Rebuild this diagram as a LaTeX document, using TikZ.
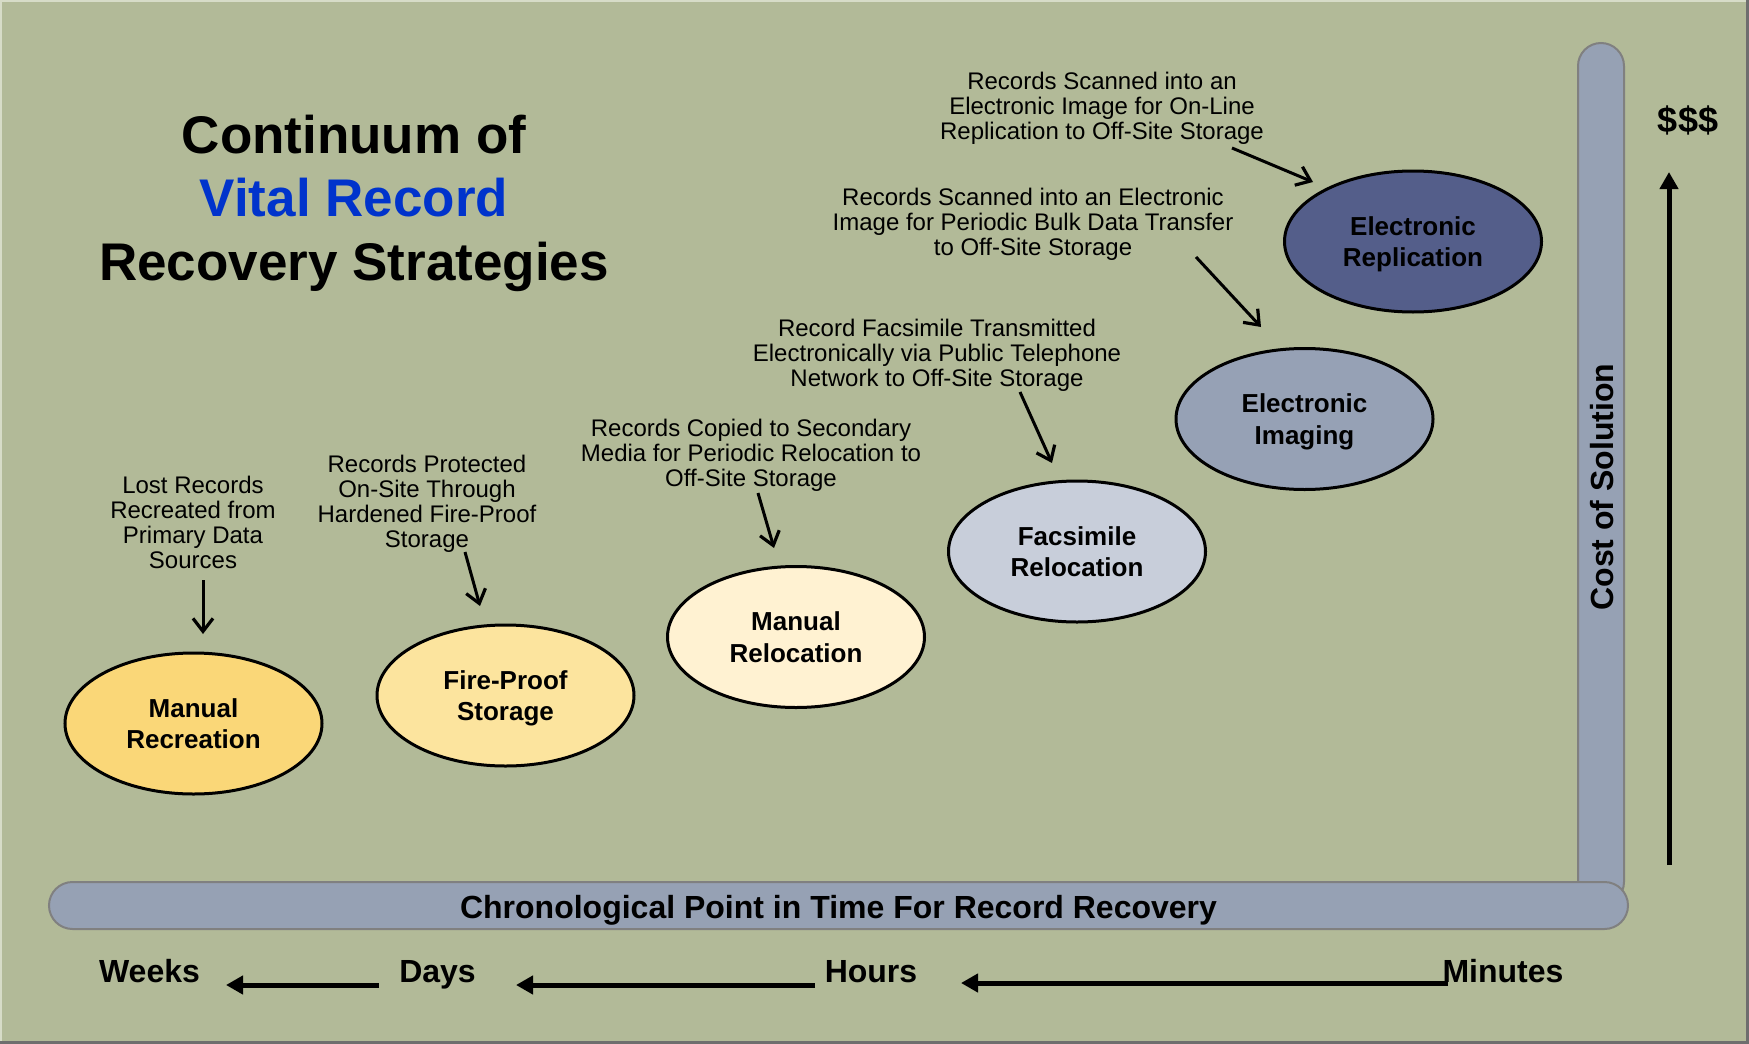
\documentclass[tikz,border=0pt]{standalone}
\usepackage{fontspec}
\setmainfont{Liberation Sans}
\usetikzlibrary{arrows.meta,shapes.geometric}
\definecolor{bg}{RGB}{178,186,152}
\definecolor{barfill}{RGB}{150,161,180}
\definecolor{barline}{RGB}{128,128,128}
\definecolor{titleblue}{RGB}{0,51,204}
\definecolor{cRecreation}{RGB}{250,215,120}
\definecolor{cFireproof}{RGB}{252,228,158}
\definecolor{cRelocation}{RGB}{255,242,210}
\definecolor{cFacsimile}{RGB}{200,206,218}
\definecolor{cImaging}{RGB}{150,161,181}
\definecolor{cReplication}{RGB}{84,94,138}
\definecolor{framedark}{RGB}{110,110,110}
\definecolor{framelight}{RGB}{215,220,200}
\setlength{\tabcolsep}{0pt}
\newcommand{\mlines}[1]{\begin{tabular}[t]{@{}c@{}}#1\end{tabular}}
\begin{document}
\begin{tikzpicture}[x=1pt,y=-1pt,
  ell/.style={ellipse, draw=black, line width=3pt, minimum width=257pt, minimum height=141pt,
    inner sep=0pt, font=\fontsize{26}{31.5}\selectfont\bfseries, text height=19pt, text depth=32pt},
  ann/.style={anchor=base, inner sep=0pt, font=\fontsize{24}{25.3}\selectfont},
  pointer/.style={line width=3pt, -{Straight Barb[length=13pt,width=20pt,line width=3.2pt]}},
  timearrow/.style={line width=5pt, -{Triangle[length=17pt,width=18pt]}},
  timelabel/.style={anchor=base, inner sep=0pt, font=\fontsize{32}{36}\selectfont\bfseries},
  bar/.style={fill=barfill, draw=barline, line width=2pt}
]
\useasboundingbox (0,0) rectangle (1749,1044);
\fill[bg] (0,0) rectangle (1749,1044);
\draw[framelight, line width=2pt] (1,1044) -- (1,1) -- (1749,1);
\draw[framedark, line width=3pt] (1747.5,0) -- (1747.5,1042.5) -- (0,1042.5);

% title
\node[anchor=base, inner sep=0pt, font=\fontsize{53}{63.5}\selectfont\bfseries] (title) at (354,153)
  {\mlines{Continuum of\\ \textcolor{titleblue}{Vital Record}\\ Recovery Strategies}};

% bars
\draw[bar, rounded corners=23pt] (1578,43) rectangle (1624,905);
\draw[bar, rounded corners=23.5pt] (49,882) rectangle (1628,929);
\node[anchor=base, inner sep=0pt, font=\fontsize{32}{36}\selectfont\bfseries] (chrono) at (838.5,918)
  {Chronological Point in Time For Record Recovery};
\node[rotate=90, inner sep=0pt, font=\fontsize{32}{36}\selectfont\bfseries] (cost) at (1602,487) {Cost of Solution};

% cost arrow
\node[anchor=base, inner sep=0pt, font=\fontsize{36}{40}\selectfont\bfseries] (money) at (1688,132) {\$\$\$};
\coordinate (costlow) at (1669,865);
\coordinate (costhigh) at (1669,172);
\draw[timearrow] (costlow) -- (costhigh);

% time labels
\node[timelabel] (weeks) at (149.5,982) {Weeks};
\node[timelabel] (days) at (437.5,982) {Days};
\node[timelabel] (hours) at (871,982) {Hours};
\node[timelabel] (minutes) at (1503,982) {Minutes};
\coordinate (t1s) at (379,985); \coordinate (t1e) at (226,985);
\coordinate (t2s) at (815,985); \coordinate (t2e) at (516,985);
\coordinate (t3s) at (1448,983); \coordinate (t3e) at (961,983);
\draw[timearrow] (t1s) -- (t1e);
\draw[timearrow] (t2s) -- (t2e);
\draw[timearrow] (t3s) -- (t3e);

% ellipses
\node[ell, fill=cRecreation] (recreation) at (193.5,723.5) {\mlines{Manual\\Recreation}};
\node[ell, fill=cFireproof] (fireproof) at (505.5,695.5) {\mlines{Fire-Proof\\Storage}};
\node[ell, fill=cRelocation] (relocation) at (796,637) {\mlines{Manual\\Relocation}};
\node[ell, fill=cFacsimile] (facsimile) at (1077,551.5) {\mlines{Facsimile\\Relocation}};
\node[ell, fill=cImaging] (imaging) at (1304.5,419) {\mlines{Electronic\\Imaging}};
\node[ell, fill=cReplication] (replication) at (1413,241.5) {\mlines{Electronic\\Replication}};

% annotations
\node[ann] (a1) at (193,493) {\mlines{Lost Records\\Recreated from\\Primary Data\\Sources}};
\node[ann] (a2) at (427,472) {\mlines{Records Protected\\On-Site Through\\Hardened Fire-Proof\\Storage}};
\node[ann] (a3) at (751,436) {\mlines{Records Copied to Secondary\\Media for Periodic Relocation to\\Off-Site Storage}};
\node[ann] (a4) at (937,336) {\mlines{Record Facsimile Transmitted\\Electronically via Public Telephone\\Network to Off-Site Storage}};
\node[ann] (a5) at (1033,205) {\mlines{Records Scanned into an Electronic\\Image for Periodic Bulk Data Transfer\\to Off-Site Storage}};
\node[ann] (a6) at (1102,89) {\mlines{Records Scanned into an\\Electronic Image for On-Line\\Replication to Off-Site Storage}};

% pointer arrows
\coordinate (p1s) at (203,580); \coordinate (p1e) at (203,634);
\coordinate (p2s) at (465,552); \coordinate (p2e) at (480,606);
\coordinate (p3s) at (758,493); \coordinate (p3e) at (774,548);
\coordinate (p4s) at (1020,392); \coordinate (p4e) at (1052,463);
\coordinate (p5s) at (1196,257); \coordinate (p5e) at (1261,327);
\coordinate (p6s) at (1232,148); \coordinate (p6e) at (1313,182);
\draw[pointer] (p1s) -- (p1e);
\draw[pointer] (p2s) -- (p2e);
\draw[pointer] (p3s) -- (p3e);
\draw[pointer] (p4s) -- (p4e);
\draw[pointer] (p5s) -- (p5e);
\draw[pointer] (p6s) -- (p6e);
\end{tikzpicture}
\end{document}
